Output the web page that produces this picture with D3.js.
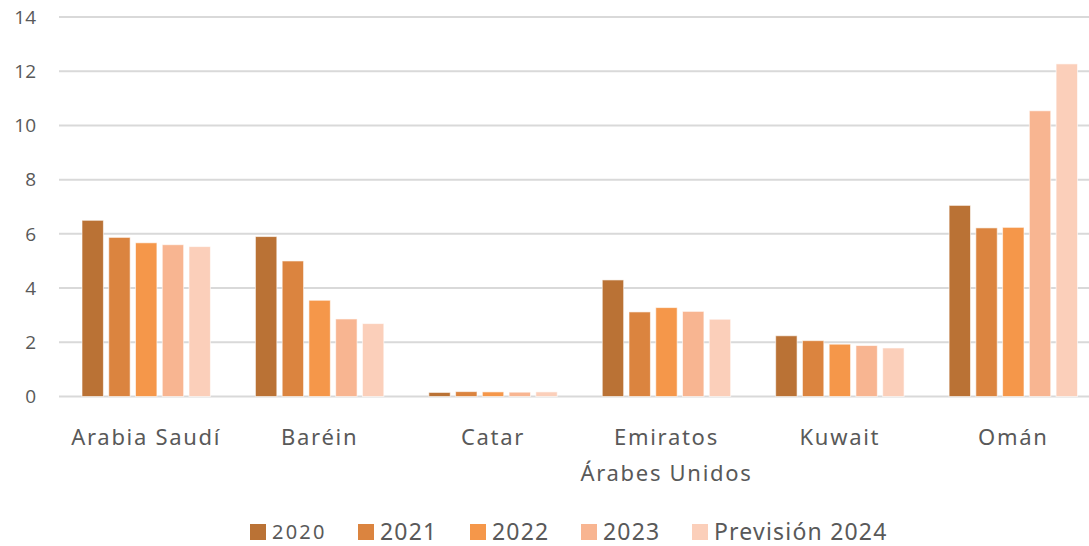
<!DOCTYPE html>
<html>
<head>
<meta charset="utf-8">
<script src="https://cdn.jsdelivr.net/npm/d3@7"></script>
<style>
  body { margin: 0; background: #fff; }
  svg text { fill: #595959; }
</style>
</head>
<body>
<svg id="chart" width="1089" height="546"></svg>
<script>
/** --- DATA --- */
const countries = ['Arabia Saudí', 'Baréin', 'Catar', 'Emiratos\nÁrabes Unidos', 'Kuwait', 'Omán'];
const years = ['2020', '2021', '2022', '2023', 'Previsión 2024'];
const v2020 = [6.50, 5.90, 0.15, 4.30, 2.24, 7.05];
const v2021 = [5.87, 5.00, 0.18, 3.12, 2.06, 6.22];
const v2022 = [5.67, 3.55, 0.17, 3.28, 1.93, 6.24];
const v2023 = [5.60, 2.86, 0.16, 3.14, 1.88, 10.54];
const v2024 = [5.53, 2.69, 0.17, 2.85, 1.79, 12.27];
const yTicks = [0, 2, 4, 6, 8, 10, 12, 14];
const colors = ['#BA7235', '#DB843F', '#F5974A', '#F8B591', '#FBCFBA'];

const series = [v2020, v2021, v2022, v2023, v2024];

/** --- DIMENSIONS --- */
const svg = d3.select('#chart');
const plotLeft = 59.5, plotRight = 1100, plotTop = 17, plotBottom = 396.5;
const gridLeft = 59, gridRight = 1089;

/** --- SCALES --- */
// the plot runs a bit past the right edge of the picture (cropped original)
const x0 = d3.scaleBand()
  .domain(countries)
  .range([plotLeft, plotRight])
  .paddingInner(0.2287)
  .paddingOuter(0.11435);

const x1 = d3.scaleBand()
  .domain(years)
  .range([0, x0.bandwidth()])
  .paddingInner(0.2)
  .paddingOuter(0.1);

const y = d3.scaleLinear()
  .domain([0, 14])
  .range([plotBottom, plotTop]);

// gridlines
svg.append('g')
  .selectAll('line')
  .data(yTicks)
  .join('line')
  .attr('x1', gridLeft)
  .attr('x2', gridRight)
  .attr('y1', d => y(d))
  .attr('y2', d => y(d))
  .attr('stroke', '#d9d9d9')
  .attr('stroke-width', 2);

// y tick labels
svg.append('g')
  .selectAll('text')
  .data(yTicks)
  .join('text')
  .attr('x', 36)
  .attr('y', d => y(d))
  .attr('dy', '0.35em')
  .attr('text-anchor', 'end')
  .style('font-family', '"Open Sans", sans-serif')
  .style('font-size', '19px')
  .text(d => d);

// bars
const rows = [];
countries.forEach((c, i) => {
  years.forEach((yr, j) => {
    rows.push({ country: c, year: yr, idx: j, value: series[j][i] });
  });
});

svg.append('g')
  .selectAll('rect')
  .data(rows)
  .join('rect')
  .attr('x', d => x0(d.country) + x1(d.year))
  .attr('y', d => y(d.value))
  .attr('width', x1.bandwidth())
  .attr('height', d => y(0) - y(d.value))
  .attr('fill', d => colors[d.idx])
  .attr('stroke', '#fff')
  .attr('stroke-opacity', 0.6)
  .attr('stroke-width', 1);

// category labels
const catG = svg.append('g')
  .style('font-family', '"Noto Sans", sans-serif')
  .style('font-size', '22px')
  .style('letter-spacing', '1.7px');

catG.selectAll('text')
  .data(countries)
  .join('text')
  .attr('text-anchor', 'middle')
  .attr('x', d => x0(d) + x0.bandwidth() / 2)
  .attr('y', 445)
  .each(function(d) {
    const lines = d.split('\n');
    d3.select(this).selectAll('tspan')
      .data(lines)
      .join('tspan')
      .attr('x', x0(d) + x0.bandwidth() / 2)
      .attr('dy', (l, k) => k === 0 ? 0 : 36)
      .text(l => l);
  });

// legend
const legendX = [250, 358, 470, 581, 692];
const legend = svg.append('g')
  .style('font-family', '"Noto Sans", sans-serif');

const item = legend.selectAll('g')
  .data(years)
  .join('g')
  .attr('transform', (d, i) => `translate(${legendX[i]},524)`);

item.append('rect')
  .attr('width', 16)
  .attr('height', 16)
  .attr('fill', (d, i) => colors[i]);

item.append('text')
  .attr('x', 22)
  .attr('y', 8)
  .attr('dy', '0.35em')
  .style('font-size', (d, i) => i === 0 ? '20px' : '23px')
  .style('letter-spacing', (d, i) => i === 0 ? '2.2px' : '1.2px')
  .text(d => d);
</script>
</body>
</html>
